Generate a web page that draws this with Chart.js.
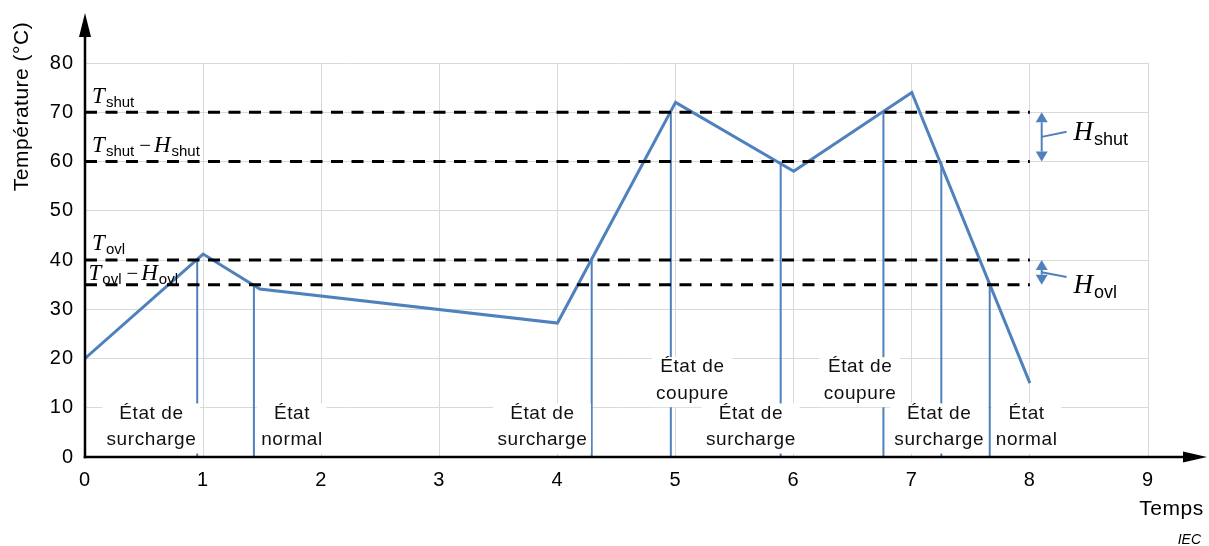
<!DOCTYPE html>
<html>
<head>
<meta charset="utf-8">
<script src="https://cdn.jsdelivr.net/npm/chart.js@4/dist/chart.umd.min.js"></script>
<style>
  html, body { margin: 0; padding: 0; background: #fff; }
  #wrap { width: 1209px; height: 546px; }
</style>
</head>
<body>
<div id="wrap"><canvas id="chart" width="1209" height="546"></canvas></div>
<script>
// Axis ticks
const timeTicks = [0, 1, 2, 3, 4, 5, 6, 7, 8, 9];
const tempTicks = [0, 10, 20, 30, 40, 50, 60, 70, 80];

// Temperature profile
const timeValues = [0, 1, 1.48, 4, 5, 6, 7, 8];
const temperatureValues = [20, 41.2, 34.1, 27.2, 72, 58, 74, 15];

// Threshold levels: T_shut, T_shut - H_shut, T_ovl, T_ovl - H_ovl
const thresholdLevels = [70, 60, 40, 35];
const thresholdEnd = 8;
const thresholdTerms = [
  [["T", "shut"]],
  [["T", "shut"], ["H", "shut"]],
  [["T", "ovl"]],
  [["T", "ovl"], ["H", "ovl"]]
];
const thresholdLabelTimes = [0.06, 0.06, 0.06, 0.03];
const thresholdLabelLevels = [71.8, 61.9, 42.0, 35.9];

// State switching instants (where the curve crosses a threshold)
const switchTimes = [0.95, 1.43, 4.29, 4.96, 5.89, 6.76, 7.25, 7.66];
const switchLevels = [40, 35, 40, 70, 60, 70, 60, 35];

// State annotations
const stateNames = [
  ["État de", "surcharge"], ["État", "normal"], ["État de", "surcharge"],
  ["État de", "coupure"], ["État de", "surcharge"], ["État de", "coupure"],
  ["État de", "surcharge"], ["État", "normal"]
];
const stateTimes = [0.56, 1.75, 3.87, 5.14, 5.635, 6.56, 7.23, 7.97];
const stateLevels = [6.2, 6.2, 6.2, 15.6, 6.2, 15.6, 6.2, 6.2];

// Hysteresis markers
const hysteresisNames = ["shut", "ovl"];
const hysteresisBands = [[70, 60], [40, 35]];
const hysteresisTime = 8.1;
const hysteresisLabelTime = 8.37;
const hysteresisLabelLevels = [64.4, 33.3];

const BLUE = '#4f81bd';
const SANS = '"Liberation Sans", Arial, sans-serif';
const SERIF = '"Liberation Serif", "Times New Roman", serif';

const datasets = [];
thresholdLevels.forEach(level => {
  datasets.push({
    data: [{ x: 0, y: level }, { x: thresholdEnd, y: level }],
    borderColor: '#000', borderWidth: 3, borderDash: [12, 8.5],
    pointRadius: 0, order: 0
  });
});
datasets.push({
  data: timeValues.map((t, i) => ({ x: t, y: temperatureValues[i] })),
  borderColor: BLUE, borderWidth: 3, pointRadius: 0, order: 1,
  borderJoinStyle: 'miter'
});
switchTimes.forEach((t, i) => {
  datasets.push({
    data: [{ x: t, y: switchLevels[i] }, { x: t, y: 0 }],
    borderColor: BLUE, borderWidth: 2, pointRadius: 0, order: 2
  });
});

function drawMathLabel(ctx, terms, x, baseline, mainSize, subSize, subDrop) {
  ctx.save();
  ctx.letterSpacing = '0px';
  ctx.textAlign = 'left';
  ctx.textBaseline = 'alphabetic';
  ctx.fillStyle = '#000';
  let cx = x;
  terms.forEach((term, k) => {
    if (k > 0) {
      ctx.font = mainSize * 0.9 + 'px ' + SERIF;
      cx += 5;
      ctx.fillText('\u2212', cx, baseline);
      cx += ctx.measureText('\u2212').width + 3;
    }
    ctx.font = 'italic ' + mainSize + 'px ' + SERIF;
    ctx.fillText(term[0], cx, baseline);
    cx += ctx.measureText(term[0]).width + 1;
    ctx.font = subSize + 'px ' + SANS;
    ctx.fillText(term[1], cx, baseline + subDrop);
    cx += ctx.measureText(term[1]).width;
  });
  ctx.restore();
}

const annotations = {
  id: 'annotations',
  beforeDraw(chart) {
    chart.ctx.letterSpacing = '1px';
  },
  afterDatasetsDraw(chart) {
    const ctx = chart.ctx;
    const xs = chart.scales.x, ys = chart.scales.y;

    // State boxes
    ctx.save();
    ctx.font = '19px ' + SANS;
    ctx.letterSpacing = '0.6px';
    stateNames.forEach((lines, i) => {
      const cx = xs.getPixelForValue(stateTimes[i]);
      const cy = ys.getPixelForValue(stateLevels[i]);
      const w = Math.max(...lines.map(l => ctx.measureText(l).width)) + 8;
      ctx.fillStyle = '#fff';
      ctx.fillRect(cx - w / 2, cy - 23, w, 50);
      ctx.fillStyle = '#111';
      ctx.textAlign = 'center';
      ctx.textBaseline = 'middle';
      lines.forEach((l, j) => ctx.fillText(l, cx + 0.3, cy - 13 + 26.5 * j));
    });
    ctx.restore();

    // Threshold names
    thresholdTerms.forEach((terms, i) => {
      drawMathLabel(ctx, terms,
        xs.getPixelForValue(thresholdLabelTimes[i]),
        ys.getPixelForValue(thresholdLabelLevels[i]), 23, 15, 4);
    });

    // Hysteresis double arrows
    ctx.save();
    ctx.strokeStyle = BLUE;
    ctx.fillStyle = BLUE;
    ctx.lineWidth = 2;
    const ax = xs.getPixelForValue(hysteresisTime);
    hysteresisBands.forEach((band, i) => {
      const yTop = ys.getPixelForValue(band[0]);
      const yBot = ys.getPixelForValue(band[1]);
      const head = 10, half = 6;
      ctx.beginPath();
      ctx.moveTo(ax, yTop + head);
      ctx.lineTo(ax, yBot - head);
      ctx.stroke();
      ctx.beginPath();
      ctx.moveTo(ax, yTop); ctx.lineTo(ax - half, yTop + head); ctx.lineTo(ax + half, yTop + head);
      ctx.closePath(); ctx.fill();
      ctx.beginPath();
      ctx.moveTo(ax, yBot); ctx.lineTo(ax - half, yBot - head); ctx.lineTo(ax + half, yBot - head);
      ctx.closePath(); ctx.fill();
      // leader to the name
      const mid = (yTop + yBot) / 2;
      const lx = xs.getPixelForValue(hysteresisLabelTime);
      const ly = ys.getPixelForValue(hysteresisLabelLevels[i]);
      ctx.beginPath();
      ctx.moveTo(ax, mid);
      ctx.lineTo(lx - 7, i === 0 ? ly - 8 : ly - 16);
      ctx.stroke();
      drawMathLabel(ctx, [["H", hysteresisNames[i]]], lx, ly, 27, 18, 5);
    });
    ctx.restore();
  },
  afterDraw(chart) {
    const ctx = chart.ctx;
    const a = chart.chartArea;
    ctx.save();
    ctx.strokeStyle = '#000';
    ctx.fillStyle = '#000';
    ctx.lineWidth = 2.5;
    // y axis with arrow
    ctx.beginPath();
    ctx.moveTo(a.left, a.bottom + 1.25);
    ctx.lineTo(a.left, 30);
    ctx.stroke();
    ctx.beginPath();
    ctx.moveTo(a.left, 13); ctx.lineTo(a.left - 6, 37); ctx.lineTo(a.left + 6, 37);
    ctx.closePath(); ctx.fill();
    // x axis with arrow
    ctx.beginPath();
    ctx.moveTo(a.left - 1.25, a.bottom);
    ctx.lineTo(1190, a.bottom);
    ctx.stroke();
    ctx.beginPath();
    ctx.moveTo(1207, a.bottom); ctx.lineTo(1183, a.bottom - 5.5); ctx.lineTo(1183, a.bottom + 5.5);
    ctx.closePath(); ctx.fill();

    // axis titles
    ctx.letterSpacing = '0.5px';
    ctx.font = '21px ' + SANS;
    ctx.textAlign = 'center';
    ctx.textBaseline = 'middle';
    ctx.save();
    ctx.translate(22, 106.5);
    ctx.rotate(-Math.PI / 2);
    ctx.fillText('Température (°C)', 0, 0);
    ctx.restore();
    ctx.fillText('Temps', 1171.5, 509);

    ctx.letterSpacing = '0px';
    ctx.font = 'italic 14px ' + SANS;
    ctx.textAlign = 'right';
    ctx.fillText('IEC', 1201, 540);
    ctx.restore();
  }
};

new Chart(document.getElementById('chart'), {
  type: 'line',
  data: { datasets },
  options: {
    responsive: false,
    animation: false,
    events: [],
    layout: { padding: { left: 0, top: 63, right: 61, bottom: 0 } },
    plugins: { legend: { display: false }, tooltip: { enabled: false } },
    elements: { line: { tension: 0 } },
    scales: {
      x: {
        type: 'linear', min: 0, max: 9,
        afterBuildTicks: s => { s.ticks = timeTicks.map(v => ({ value: v })); },
        afterFit: s => { s.height = 89; },
        grid: { color: '#d9d9d9', lineWidth: 1, drawTicks: false },
        border: { display: false },
        ticks: { padding: 11, color: '#000', maxRotation: 0, font: { family: SANS, size: 20 } }
      },
      y: {
        type: 'linear', min: 0, max: 80,
        afterBuildTicks: s => { s.ticks = tempTicks.map(v => ({ value: v })); },
        afterFit: s => { s.width = 85; },
        grid: { color: '#d9d9d9', lineWidth: 1, drawTicks: false },
        border: { display: false },
        ticks: { padding: 11, color: '#000', font: { family: SANS, size: 20 } }
      }
    }
  },
  plugins: [annotations]
});
</script>
</body>
</html>
